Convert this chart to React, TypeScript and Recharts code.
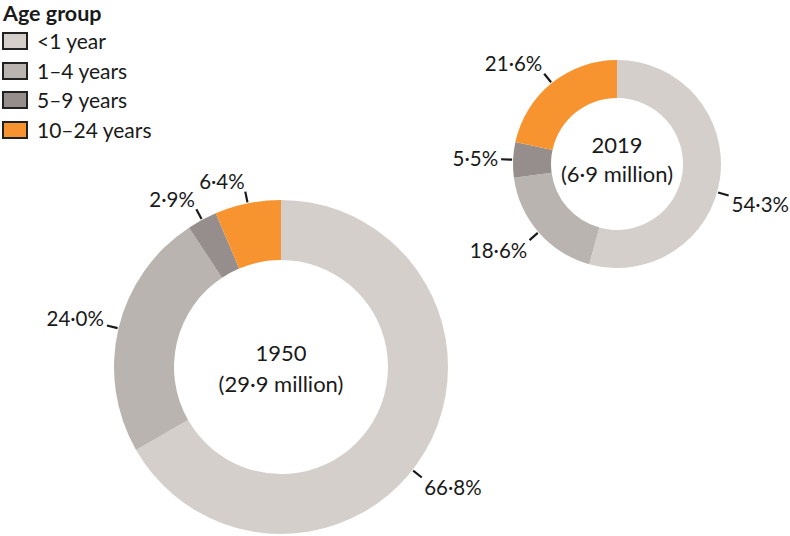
import React from 'react';
import { PieChart, Pie, Cell } from 'recharts';

const ageGroups = ['<1 year', '1–4 years', '5–9 years', '10–24 years'];
const colors = ['#d5cfcc', '#b9b4b0', '#958e8c', '#f7942f'];
const values1950 = [66.8, 24.0, 2.9, 6.4];
const values2019 = [54.3, 18.6, 5.5, 21.6];
const years = ['1950', '2019'];
const totals = ['(29·9 million)', '(6·9 million)'];

const FONT = 'Lato, "Open Sans", sans-serif';
const RAD = Math.PI / 180;
const INK = '#1a1a1a';

const d1950 = ageGroups.map((name, i) => ({ name, value: values1950[i] }));
const d2019 = ageGroups.map((name, i) => ({ name, value: values2019[i] }));

const fmt = (v: number) => v.toFixed(1).replace('.', '·') + '%';

const makeLabel = (fontSize: number) => (props: any) => {
  const { cx, cy, midAngle, outerRadius, value, index } = props;
  // the largest slice's label is nudged clockwise, as in the reference
  const ang = index === 0 ? midAngle - 8 : midAngle;
  const cos = Math.cos(-ang * RAD);
  const sin = Math.sin(-ang * RAD);
  const r1 = outerRadius + 1;
  const r2 = outerRadius + 12;
  const r3 = outerRadius + 15;
  const x1 = cx + r1 * cos, y1 = cy + r1 * sin;
  const x2 = cx + r2 * cos, y2 = cy + r2 * sin;
  const x3 = cx + r3 * cos, y3 = cy + r3 * sin;
  const anchor = cos >= 0 ? 'start' : 'end';
  const dy = Math.sign(sin) * Math.min(Math.abs(sin) * 30, 8);
  return (
    <g>
      <line x1={x1} y1={y1} x2={x2} y2={y2} stroke={INK} strokeWidth={2.2} />
      <text
        x={x3}
        y={y3 + dy}
        textAnchor={anchor}
        dominantBaseline="central"
        fill={INK}
        fontSize={fontSize}
        fontFamily={FONT}
      >
        {fmt(value)}
      </text>
    </g>
  );
};

export default function App() {
  return (
    <div style={{ position: 'absolute', left: 0, top: 0, width: 790, height: 536, background: '#fff', fontFamily: FONT, color: INK }}>
      <PieChart width={790} height={536} margin={{ top: 0, right: 0, bottom: 0, left: 0 }}>
        <Pie
          data={d1950}
          dataKey="value"
          cx={281}
          cy={367}
          innerRadius={107}
          outerRadius={167}
          startAngle={90}
          endAngle={-270}
          stroke="none"
          isAnimationActive={false}
          labelLine={false}
          label={makeLabel(20.5)}
        >
          {d1950.map((_, i) => (
            <Cell key={i} fill={colors[i]} />
          ))}
        </Pie>
        <Pie
          data={d2019}
          dataKey="value"
          cx={617}
          cy={164}
          innerRadius={66}
          outerRadius={104}
          startAngle={90}
          endAngle={-270}
          stroke="none"
          isAnimationActive={false}
          labelLine={false}
          label={makeLabel(20.5)}
        >
          {d2019.map((_, i) => (
            <Cell key={i} fill={colors[i]} />
          ))}
        </Pie>
      </PieChart>

      <div style={{ position: 'absolute', left: 181, top: 337, width: 200, textAlign: 'center', fontSize: 22, lineHeight: '31px' }}>
        <div>{years[0]}</div>
        <div>{totals[0]}</div>
      </div>
      <div style={{ position: 'absolute', left: 517, top: 130, width: 200, textAlign: 'center', fontSize: 22, lineHeight: '29px' }}>
        <div>{years[1]}</div>
        <div>{totals[1]}</div>
      </div>

      <div style={{ position: 'absolute', left: 3, top: 0, fontWeight: 700, fontSize: 21.5, lineHeight: '26px', whiteSpace: 'nowrap' }}>
        Age group
      </div>
      {ageGroups.map((g, i) => (
        <div
          key={g}
          style={{
            position: 'absolute',
            left: 2,
            top: 32 + 29.5 * i,
            height: 18,
            display: 'flex',
            alignItems: 'center',
            whiteSpace: 'nowrap',
          }}
        >
          <div
            style={{
              width: 22,
              height: 14,
              background: colors[i],
              border: '2px solid #222',
              marginRight: 9,
              flex: 'none',
            }}
          />
          <span style={{ fontSize: 21, lineHeight: '18px' }}>{g}</span>
        </div>
      ))}
    </div>
  );
}
